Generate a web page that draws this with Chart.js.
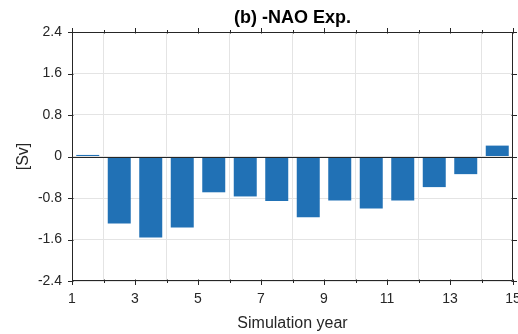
<!DOCTYPE html>
<html>
<head>
<meta charset="utf-8">
<script src="https://cdn.jsdelivr.net/npm/chart.js@4/dist/chart.umd.min.js"></script>
<style>
  html, body { margin: 0; padding: 0; background: #ffffff; }
  canvas { display: block; }
</style>
</head>
<body>
<canvas id="chart" width="518" height="334"></canvas>
<script>
// Simulation years (bar centres) and the transport anomaly for each year, in Sv
const yearCenters = [1.5, 2.5, 3.5, 4.5, 5.5, 6.5, 7.5, 8.5, 9.5, 10.5, 11.5, 12.5, 13.5, 14.5];
const anomalySv   = [0.03, -1.29, -1.56, -1.37, -0.69, -0.77, -0.86, -1.17, -0.85, -1.00, -0.85, -0.59, -0.34, 0.21];

// Axis tick labels
const xTickLabels = [1, 3, 5, 7, 9, 11, 13, 15];
const xMinorTicks = [2, 4, 6, 8, 10, 12, 14];
const yTickLabels = [-2.4, -1.6, -0.8, 0, 0.8, 1.6, 2.4];

const titleText = '(b) -NAO Exp.';
const FONT = "'Liberation Sans', Arial, Helvetica, sans-serif";
const AXIS_COLOR = '#262626';
const GRID_COLOR = '#e4e4e4';

// Box around the axes, outward tick marks on all four sides, zero baseline and title
const boxPlugin = {
  id: 'boxPlugin',
  afterDatasetsDraw(chart) {
    const { ctx, chartArea: a, scales: { y } } = chart;
    ctx.save();
    ctx.strokeStyle = AXIS_COLOR;
    ctx.lineWidth = 1;
    const y0 = Math.round(y.getPixelForValue(0)) + 0.5;
    ctx.beginPath();
    ctx.moveTo(a.left, y0);
    ctx.lineTo(a.right, y0);
    ctx.stroke();
    ctx.restore();
  },
  afterDraw(chart) {
    const { ctx, chartArea: a, scales: { x, y } } = chart;
    ctx.save();
    ctx.strokeStyle = AXIS_COLOR;
    ctx.lineWidth = 1;
    const L = Math.round(a.left) + 0.5, R = Math.round(a.right) - 0.5;
    const T = Math.round(a.top) + 0.5, B = Math.round(a.bottom) - 0.5;
    ctx.beginPath();
    ctx.moveTo(L, T); ctx.lineTo(R, T); ctx.lineTo(R, B); ctx.lineTo(L, B); ctx.closePath();
    ctx.stroke();

    ctx.beginPath();
    const xTick = (v, len) => {
      const px = Math.round(x.getPixelForValue(v)) + 0.5;
      ctx.moveTo(px, T - len); ctx.lineTo(px, T + 1);
      ctx.moveTo(px, B + len); ctx.lineTo(px, B - 1);
    };
    xTickLabels.forEach(v => xTick(v, 4.5));
    xMinorTicks.forEach(v => xTick(v, 2.5));
    yTickLabels.forEach(v => {
      const py = Math.round(y.getPixelForValue(v)) + 0.5;
      ctx.moveTo(L - 4.5, py); ctx.lineTo(L + 1, py);
      ctx.moveTo(R + 4.5, py); ctx.lineTo(R - 1, py);
    });
    ctx.stroke();

    ctx.fillStyle = '#000000';
    ctx.font = 'bold 18px ' + FONT;
    ctx.textAlign = 'center';
    ctx.textBaseline = 'middle';
    ctx.fillText(titleText, (a.left + a.right) / 2, 18);
    ctx.restore();
  }
};

const chart = new Chart(document.getElementById('chart'), {
  type: 'bar',
  data: {
    datasets: [{
      data: yearCenters.map((yr, i) => ({ x: yr, y: anomalySv[i] })),
      backgroundColor: '#2171B5',
      borderWidth: 0,
      barPercentage: 0.73,
      categoryPercentage: 1.0
    }]
  },
  options: {
    responsive: false,
    animation: false,
    devicePixelRatio: 1,
    layout: { padding: { top: 32, right: 5, left: 0, bottom: 0 } },
    plugins: { legend: { display: false }, tooltip: { enabled: false }, title: { display: false } },
    scales: {
      x: {
        type: 'linear',
        min: 1, max: 15,
        offset: false,
        afterBuildTicks: s => { s.ticks = xTickLabels.map(v => ({ value: v })); },
        afterFit: s => { s.height = 53; s.paddingLeft = 0; s.paddingRight = 0; },
        ticks: { color: AXIS_COLOR, font: { family: FONT, size: 14 }, padding: 10, maxRotation: 0, autoSkip: false },
        grid: { color: GRID_COLOR, drawTicks: false },
        border: { display: false },
        title: { display: true, text: 'Simulation year', color: AXIS_COLOR, font: { family: FONT, size: 16 }, padding: { top: 0, bottom: 1 } }
      },
      y: {
        min: -2.4, max: 2.4,
        afterBuildTicks: s => { s.ticks = yTickLabels.map(v => ({ value: v })); },
        afterFit: s => { s.width = 72; s.paddingTop = 0; s.paddingBottom = 0; },
        ticks: {
          color: AXIS_COLOR, font: { family: FONT, size: 14 }, padding: 10,
          callback: v => (v === 0 ? '0' : String(Math.round(v * 10) / 10))
        },
        grid: { color: GRID_COLOR, drawTicks: false },
        border: { display: false },
        title: { display: true, text: '[Sv]', color: AXIS_COLOR, font: { family: FONT, size: 16 }, padding: { top: 14, bottom: 0 } }
      }
    }
  },
  plugins: [boxPlugin]
});
</script>
</body>
</html>
